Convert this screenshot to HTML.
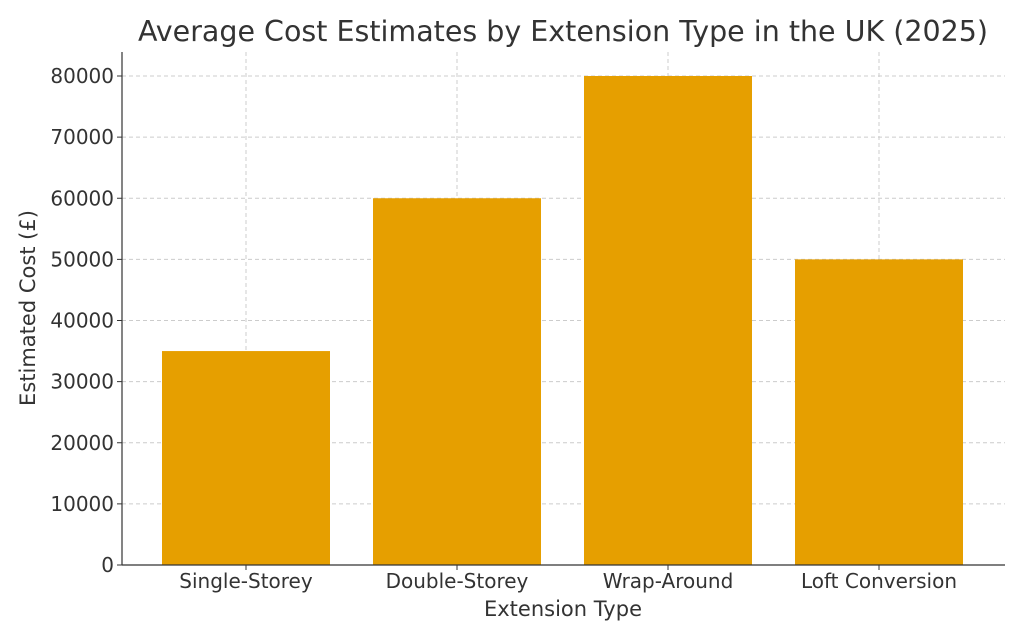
<!DOCTYPE html>
<html><head><meta charset="utf-8"><style>
html,body{margin:0;padding:0;background:#fff;}
svg{display:block;font-family:"DejaVu Sans","Liberation Sans",sans-serif;}
</style></head><body>
<svg id="chart" width="1024" height="640" viewBox="0 0 1024 640">
<text x="563" y="41" text-anchor="middle" font-size="28.5" fill="#333">Average Cost Estimates by Extension Type in the UK (2025)</text>
<g id="grid"></g>
<g id="bars"></g>
<g id="axes"></g>
<text x="563" y="616" text-anchor="middle" font-size="21" fill="#333">Extension Type</text>
<text transform="translate(35,308) rotate(-90)" text-anchor="middle" font-size="21" fill="#333">Estimated Cost (£)</text>
</svg>
<script>
const categories = ["Single-Storey","Double-Storey","Wrap-Around","Loft Conversion"];
const costs = [35000,60000,80000,50000];
const yTicks = [0,10000,20000,30000,40000,50000,60000,70000,80000];
const SVGNS="http://www.w3.org/2000/svg";
const plotY0=565, plotYPer=(565-76)/80000;
function yScale(v){return plotY0-v*plotYPer;}
function xScale(i){return 246+211*i;}
const barW=168, plotLeft=122, plotRight=1005, plotTop=52;
function mk(tag,attrs,parent){const e=document.createElementNS(SVGNS,tag);for(const k in attrs)e.setAttribute(k,attrs[k]);parent.appendChild(e);return e;}
const gridG=document.getElementById('grid'),barsG=document.getElementById('bars'),axesG=document.getElementById('axes');
yTicks.forEach(t=>{
  const l=mk('line',{x1:plotLeft,x2:plotRight,y1:yScale(t),y2:yScale(t),stroke:'#ccc','stroke-dasharray':'4,3','stroke-width':1},gridG);
  
  
  const tk=mk('line',{x1:plotLeft-5,x2:plotLeft,y1:yScale(t),y2:yScale(t),stroke:'#333','stroke-width':1},axesG);
  
  
  const tx=mk('text',{x:plotLeft-8,y:yScale(t)+7,'text-anchor':'end','font-size':20,fill:'#333'},axesG);
  tx.textContent=t;
  
  
});
categories.forEach((c,i)=>{
  const cx=xScale(i);
  const b=mk('rect',{x:cx-barW/2,y:yScale(costs[i]),width:barW,height:plotY0-yScale(costs[i]),fill:'#E69F00'},barsG);
  
  
  const g=mk('line',{x1:cx,x2:cx,y1:plotTop,y2:plotY0,stroke:'#ccc','stroke-dasharray':'4,3','stroke-width':1},gridG);
  
  
  const tk=mk('line',{x1:cx,x2:cx,y1:plotY0,y2:plotY0+5,stroke:'#333','stroke-width':1},axesG);
  
  
  const tx=mk('text',{x:cx,y:plotY0+23,'text-anchor':'middle','font-size':20,fill:'#333'},axesG);
  tx.textContent=c;
  
  
});
const la=mk('line',{x1:plotLeft,x2:plotLeft,y1:plotTop,y2:plotY0,stroke:'#333','stroke-width':1.2},axesG);


const ba=mk('line',{x1:plotLeft,x2:plotRight,y1:plotY0,y2:plotY0,stroke:'#333','stroke-width':1.2},axesG);


</script>
</body></html>
